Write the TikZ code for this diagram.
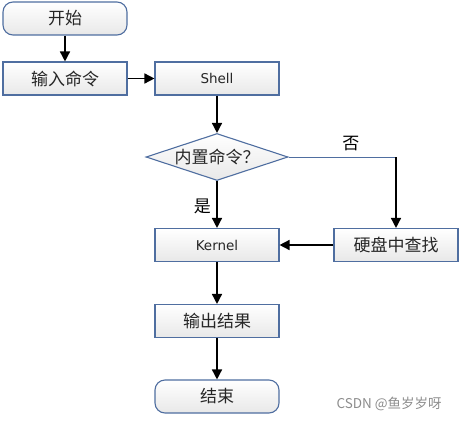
\documentclass[tikz,border=0pt]{standalone}
\usepackage{fontspec}
\setmainfont{DejaVu Sans}
\newfontfamily\zhfont{Noto Sans CJK SC}
\usetikzlibrary{shapes.geometric,arrows.meta}
\definecolor{borda}{RGB}{79,110,160}

\begin{document}
\begin{tikzpicture}[x=1pt, y=-1pt, %Escala em pixels
	caixa/.style={draw=borda, line width=1.1pt, top color=white, bottom color=black!9, minimum width=124pt, minimum height=33pt, inner sep=0pt, text=black!85, font=\fontsize{13.5}{16}\selectfont},
	terminal/.style={caixa, rounded corners=10pt},
	decisao/.style={caixa, diamond, aspect=3, minimum width=142pt, minimum height=47pt},
	seta/.style={line width=1.5pt, -{Triangle[length=10pt,width=10pt]}},
	zh/.style={font=\zhfont\fontsize{17}{19}\selectfont},
	rotulo/.style={zh, text=black}]
	\useasboundingbox (0,0) rectangle (465,420); %Margens
		%Caixas
	\node[terminal, zh] (inicio) at (65,18.5) {开始};
	\node[caixa, zh] (entrada) at (65,78.5) {输入命令};
	\node[caixa] (shell) at (217,78.5) {Shell};
	\node[decisao, zh] (interno) at (217,157) {内置命令？};
	\node[caixa] (kernel) at (217,245) {Kernel};
	\node[caixa, zh] (busca) at (396,245) {硬盘中查找};
	\node[caixa, zh] (saida) at (217,321) {输出结果};
	\node[terminal, zh] (fim) at (217,396.5) {结束};
	\coordinate (canto) at (busca.north |- interno.east); %Canto do ramo "否"
		%Setas
	\draw[seta] (inicio) -- (entrada);
	\draw[seta] (entrada) -- (shell);
	\draw[seta] (shell) -- (interno);
	\draw[seta] (interno) -- (kernel) node[rotulo, pos=0.55, left=2pt]{是};
	\draw[borda, line width=1pt] (interno.east) -- (canto) node[rotulo, pos=0.58, above=2pt]{否};
	\draw[seta] (canto) -- (busca);
	\draw[seta] (busca) -- (kernel);
	\draw[seta] (kernel) -- (saida);
	\draw[seta] (saida) -- (fim);
		%Marca d'água
	\node[font=\zhfont\fontsize{13.5}{15}\selectfont, text=black!45, anchor=west] (marca) at (333,404) {CSDN @鱼岁岁呀};
\end{tikzpicture}
\end{document}
